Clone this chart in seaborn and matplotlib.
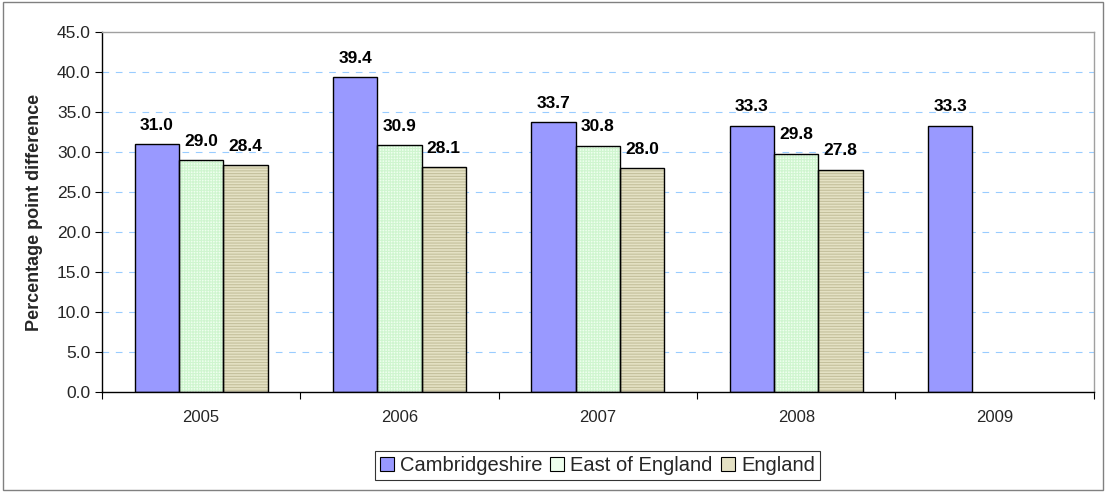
import numpy as np
import pandas as pd
import matplotlib
matplotlib.use("Agg")
import matplotlib.pyplot as plt
from matplotlib.patches import Rectangle, Patch
import seaborn as sns

years = ["2005", "2006", "2007", "2008", "2009"]
cambridgeshire = [31.0, 39.4, 33.7, 33.3, 33.3]
east_of_england = [29.0, 30.9, 30.8, 29.8, np.nan]
england = [28.4, 28.1, 28.0, 27.8, np.nan]
series_names = ["Cambridgeshire", "East of England", "England"]
y_ticks = [0, 5, 10, 15, 20, 25, 30, 35, 40, 45]

face_colors = {"Cambridgeshire": "#9999FF",
               "East of England": "#EEFFEE",
               "England": "#E4E1C4"}
hatch_styles = {"Cambridgeshire": None,
                "East of England": "++++++",
                "England": "------"}
hatch_colors = {"Cambridgeshire": "#9999FF",
                "East of England": "#CFF5CF",
                "England": "#C4C09C"}
values = {"Cambridgeshire": cambridgeshire, "East of England": east_of_england,
          "England": england}

df = pd.DataFrame({
    "Year": years * 3,
    "Series": sum([[n] * len(years) for n in series_names], []),
    "Value": cambridgeshire + east_of_england + england,
})

sns.set_theme(style="white")
plt.rcParams["font.family"] = ["Liberation Sans", "DejaVu Sans"]
plt.rcParams["hatch.linewidth"] = 0.8

fig = plt.figure(figsize=(11.06, 4.92), dpi=100)
ax = fig.add_axes([0.0922, 0.2033, 0.8968, 0.7317])

sns.barplot(data=df, x="Year", y="Value", hue="Series", order=years,
            hue_order=series_names, palette=face_colors, width=0.67,
            saturation=1, linewidth=0, ax=ax, legend=False)

# Hatch fills use a tinted colour, then a black outline and value label per bar
for container, name in zip(ax.containers, series_names):
    for bar in container.patches:
        if bar is None:
            continue
        h = bar.get_height()
        if np.isnan(h) or h == 0:
            continue
        if hatch_styles[name]:
            bar.set_hatch(hatch_styles[name])
            bar.set_edgecolor(hatch_colors[name])
            bar.set_linewidth(0)
        ax.add_patch(Rectangle(bar.get_xy(), bar.get_width(), h,
                               facecolor="none", edgecolor="black",
                               linewidth=1.0, zorder=3))
        idx = int(round(bar.get_x() + bar.get_width() / 2))
        ax.annotate(f"{values[name][idx]:.1f}",
                    (bar.get_x() + bar.get_width() / 2, h),
                    xytext=(0, 8), textcoords="offset points",
                    ha="center", va="bottom", fontsize=12.5,
                    fontweight="bold", color="black")

ax.set_xlim(-0.5, len(years) - 0.5)
ax.set_ylim(0, 45)
ax.set_yticks(y_ticks)
ax.set_yticklabels([f"{t:.1f}" for t in y_ticks], fontsize=12.5)
ax.set_xticks(range(len(years)))
ax.set_xticklabels(years, fontsize=12)
ax.set_xticks(np.arange(-0.5, len(years), 1.0), minor=True)
ax.tick_params(axis="x", which="major", length=0, pad=13)
ax.tick_params(axis="x", which="minor", length=5, width=0.8, color="black",
               direction="out", bottom=True)
ax.tick_params(axis="y", length=5, width=0.8, color="black", direction="out",
               left=True, pad=3)
ax.set_xlabel("")
ax.set_ylabel("Percentage point difference", fontsize=13, fontweight="bold",
              labelpad=10)

for y in y_ticks[1:-1]:
    ax.axhline(y, color="#99CCFF", linewidth=0.8, linestyle=(0, (6, 6)),
               zorder=0.5)

for side in ["left", "bottom"]:
    ax.spines[side].set_color("black")
    ax.spines[side].set_linewidth(1.0)
for side in ["top", "right"]:
    ax.spines[side].set_color("#A0A0A0")
    ax.spines[side].set_linewidth(1.0)
    ax.spines[side].set_visible(True)

handles = [Patch(facecolor=face_colors[n], edgecolor="black", linewidth=0.8)
           for n in series_names]
leg = fig.legend(handles, series_names, loc="center", ncol=3,
                 bbox_to_anchor=(0.540, 0.053), fontsize=14.5,
                 frameon=True, fancybox=False, edgecolor="black",
                 handlelength=0.7, handleheight=0.7, handletextpad=0.3,
                 columnspacing=0.4, borderpad=0.25, borderaxespad=0)
leg.get_frame().set_linewidth(0.8)

fig.patches.append(Rectangle((0.003, 0.004), 0.994, 0.992,
                             transform=fig.transFigure, fill=False,
                             edgecolor="#808080", linewidth=1.0))

fig.savefig("out.png", dpi=100)
